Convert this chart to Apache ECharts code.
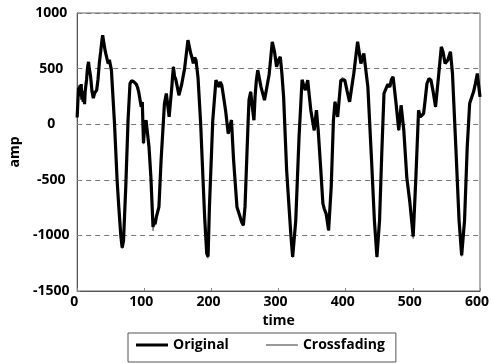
<!DOCTYPE html>
<html>
<head>
<meta charset="utf-8">
<script src="https://cdn.jsdelivr.net/npm/echarts@6/dist/echarts.min.js"></script>
<style>
html,body{margin:0;padding:0;background:#fff;}
#chart{width:492px;height:363px;}
</style>
</head>
<body>
<div id="chart"></div>
<script>
// time samples (x values)
const timeVals = [
  0,1,2,3,4,5,6,7,8,9,
  10,11,12,13,14,15,16,17,18,19,
  20,22,24,26,29,31,33,35,37,38,
  40,42,44,46,48,51,55.6,59.5,62,65,
  67,69,72.4,75.8,78.7,81,84.4,86,88,90,
  91.6,95.4,97,98.8,100,102.6,104,107,109.8,113,
  114,115,116,118,120,121.8,125,130,132.8,137,
  141,142,143.4,145,147,151.6,155.4,160,165,167,
  169,171,173,175,177,180,184,187.5,190,193,
  195,197,202,206.7,209,211.5,213,215.4,218,221,
  225,229.8,233,238,242.7,245,247.5,250,254.7,256,
  258.5,260,263.3,265,267,269,273.8,279,286,290.6,
  294,297,300,302.6,305,307.5,312,318.5,321,325.6,
  330.5,335,337,340,343.4,345,348,353,356.4,359,
  362.6,366,368,370.8,374.5,378.4,381.7,384,388,392.8,
  395,398.6,402,405.8,412,417.7,420,422.6,425,427,
  433,438,442.7,446.5,450.4,453.7,457,461,463,465.7,
  468,470.5,472,475,479,482.5,486.5,491,495.5,500.5,
  504.5,508.5,511,516,518,521,524,527,530,533.8,
  537.7,542.4,545,548,552,556,559,564,568.8,572.7,
  577,581,584.6,590.4,593,596,600
];
// Original amplitude
const ampOriginal = [
  60,200,330,250,350,300,360,220,300,200,
  290,180,300,350,400,480,530,560,500,470,
  430,300,234,280,306,400,550,650,760,800,
  720,650,600,546,580,486,9,-504,-744,-1000,
  -1110,-1050,-564,36,366,390,381,395,360,330,
  291,156,200,-171,-60,36,-40,-204,-474,-924,
  -880,-850,-900,-834,-820,-744,-324,186,276,66,
  336,420,516,430,400,261,351,500,756,700,
  640,600,546,600,576,420,0,-504,-850,-1164,
  -1190,-744,36,396,360,336,380,351,250,126,
  -84,36,-324,-744,-834,-880,-909,-744,36,220,
  291,200,36,250,400,486,336,216,450,741,
  650,516,580,606,450,246,-414,-1014,-1194,-864,
  -114,400,360,306,396,300,126,-54,126,-54,
  -384,-714,-760,-804,-954,-564,36,201,66,396,
  410,396,300,201,456,741,650,546,600,636,
  336,-264,-864,-1194,-864,-264,276,336,360,336,
  400,426,350,186,-54,170,-54,-480,-700,-1010,
  -480,126,66,96,200,366,410,396,300,156,
  396,696,650,546,576,651,456,-204,-864,-1179,
  -864,-204,186,291,360,456,246
];
// Crossfading amplitude
const ampCrossfading = [
  70,190,320,260,340,310,350,230,290,210,
  280,190,290,340,390,470,520,550,505,460,
  440,310,240,270,300,410,540,640,750,790,
  730,660,590,540,570,480,0,-510,-750,-1010,
  -1120,-1060,-570,30,370,385,385,390,355,335,
  295,150,190,-180,-70,40,-30,-210,-480,-960,
  -890,-860,-910,-830,-815,-740,-330,180,270,70,
  330,410,520,440,395,255,345,505,750,705,
  635,610,550,590,570,425,-10,-510,-870,-1180,
  -1205,-760,30,390,365,340,370,345,255,130,
  -90,40,-330,-750,-840,-890,-915,-750,30,210,
  295,210,40,240,390,480,340,220,445,735,
  640,520,570,600,460,250,-420,-1020,-1200,-870,
  -120,395,365,310,390,310,130,-60,120,-60,
  -390,-720,-770,-810,-960,-570,30,205,70,390,
  420,400,310,205,450,735,660,550,590,630,
  340,-270,-870,-1200,-870,-270,270,340,350,330,
  410,430,360,180,-60,165,-60,-490,-710,-1030,
  -490,120,70,100,190,360,400,400,310,150,
  400,690,660,550,570,655,450,-210,-870,-1190,
  -870,-210,180,295,350,450,250
];
// axis ticks
const xTicks = [0,100,200,300,400,500,600];
const yTicks = [-1500,-1000,-500,0,500,1000];

const origPts = timeVals.map((t,i)=>[t, ampOriginal[i]]);
const crossPts = timeVals.map((t,i)=>[t, ampCrossfading[i]]);

const FONT = '"Open Sans", "DejaVu Sans", sans-serif';
const chart = echarts.init(document.getElementById('chart'), null, {renderer:'canvas'});
chart.setOption({
  animation:false,
  backgroundColor:'#ffffff',
  grid:{left:73, top:13, right:1, bottom:72, show:true, borderColor:'#666', borderWidth:1, backgroundColor:'transparent'},
  xAxis:{
    type:'value', min:xTicks[0], max:xTicks[xTicks.length-1], interval:100,
    name:'time', nameLocation:'middle', nameGap:19,
    nameTextStyle:{color:'#000', fontFamily:FONT, fontWeight:'bold', fontSize:14},
    axisLine:{show:true, onZero:false, lineStyle:{color:'#555', width:1}},
    axisTick:{show:true, inside:true, length:3, lineStyle:{color:'#888'}},
    axisLabel:{color:'#000', fontFamily:FONT, fontWeight:'bold', fontSize:14, margin:4,
      padding:[0,6,0,0], formatter:v=>String(v)},
    splitLine:{show:false}
  },
  yAxis:{
    type:'value', min:yTicks[0], max:yTicks[yTicks.length-1], interval:500,
    name:'amp', nameLocation:'middle', nameGap:52,
    nameTextStyle:{color:'#000', fontFamily:FONT, fontWeight:'bold', fontSize:14},
    axisLine:{show:true, onZero:false, lineStyle:{color:'#555', width:1}},
    axisTick:{show:true, inside:true, length:3, lineStyle:{color:'#888'}},
    axisLabel:{color:'#000', fontFamily:FONT, fontWeight:'bold', fontSize:14, margin:26, align:'center',
      formatter:v=>String(v)},
    splitLine:{show:true, lineStyle:{color:'#777', type:[5,4], width:1.2}}
  },
  legend:{
    data:[
      {name:'Original', icon:'path://M0,0 L32,0 L32,3 L0,3 Z'},
      {name:'Crossfading', icon:'path://M0,0 L32,0 L32,1.5 L0,1.5 Z'}
    ],
    left:128, top:333,
    itemWidth:32, itemHeight:14, itemGap:37,
    symbolKeepAspect:true,
    padding:[5,11,10,8],
    borderColor:'#555', borderWidth:1, borderRadius:0,
    textStyle:{color:'#000', fontFamily:FONT, fontWeight:'bold', fontSize:14}
  },
  series:[
    {name:'Crossfading', type:'line', data:crossPts, showSymbol:false, symbol:'none', z:2,
     lineStyle:{color:'#666', width:1.2}, itemStyle:{color:'#777'}},
    {name:'Original', type:'line', data:origPts, showSymbol:false, symbol:'none', z:3,
     lineStyle:{color:'#000', width:3.2}, itemStyle:{color:'#000'}}
  ]
});
</script>
</body>
</html>
